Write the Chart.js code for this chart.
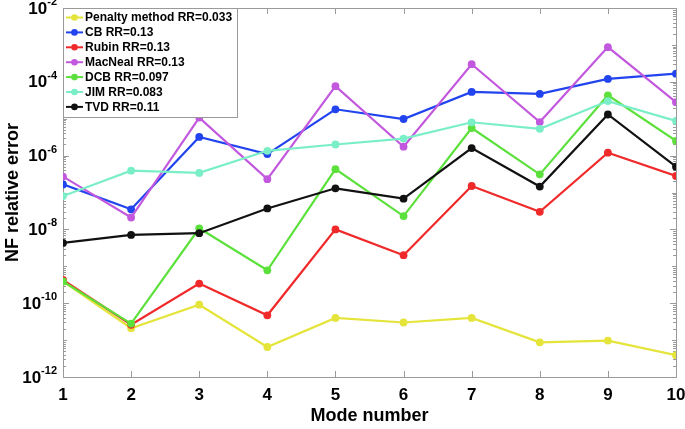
<!DOCTYPE html>
<html>
<head>
<meta charset="utf-8">
<script src="https://cdn.jsdelivr.net/npm/chart.js@4/dist/chart.umd.min.js"></script>
<style>
  html, body { margin: 0; padding: 0; background: #fff; }
  #wrap { width: 685px; height: 429px; }
</style>
</head>
<body>
<div id="wrap"><canvas id="nfChart"></canvas></div>
<script>
// mode numbers
const modes = [1, 2, 3, 4, 5, 6, 7, 8, 9, 10];

// NF relative error per method
const penalty = [3.9e-10, 2.1e-11, 9.1e-11, 6.5e-12, 4.0e-11, 3.0e-11, 4.0e-11, 8.7e-12, 9.7e-12, 3.9e-12];
const cb      = [1.66e-7, 3.5e-8, 3.2e-6, 1.1e-6, 1.8e-5, 9.8e-6, 5.3e-5, 4.7e-5, 1.2e-4, 1.66e-4];
const rubin   = [4.3e-10, 2.6e-11, 3.4e-10, 4.7e-11, 1.0e-8, 2.0e-9, 1.5e-7, 3.0e-8, 1.2e-6, 2.8e-7];
const macneal = [2.7e-7, 2.1e-8, 1.07e-5, 2.3e-7, 7.6e-5, 1.74e-6, 3.0e-4, 8.1e-6, 8.7e-4, 2.8e-5];
const dcb     = [3.9e-10, 2.8e-11, 1.07e-8, 7.8e-10, 4.3e-7, 2.3e-8, 5.6e-6, 3.1e-7, 4.3e-5, 2.5e-6];
const jim     = [8.0e-8, 3.9e-7, 3.4e-7, 1.35e-6, 2.0e-6, 2.9e-6, 8.0e-6, 5.3e-6, 3.0e-5, 8.7e-6];
const tvd     = [4.3e-9, 7.1e-9, 7.9e-9, 3.7e-8, 1.3e-7, 6.8e-8, 1.6e-6, 1.45e-7, 1.3e-5, 5.0e-7];

const seriesLabels = [
    'Penalty method RR=0.033', 'CB RR=0.13', 'Rubin RR=0.13', 'MacNeal RR=0.13',
    'DCB RR=0.097', 'JIM RR=0.083', 'TVD RR=0.11'
];
const seriesValues = [penalty, cb, rubin, macneal, dcb, jim, tvd];
const seriesColors = ['#e4e43a', '#2244ee', '#f02a2a', '#c258de', '#5ce03c', '#7aeec6', '#111111'];

// y tick exponents that get a label
const yTickExps = [-12, -10, -8, -6, -4, -2];

const FONT = '"Liberation Sans", Arial, sans-serif';
const AXIS_GRAY = '#9a9a9a';

// Build datasets (later series drawn on top, like the original)
const datasets = seriesValues.map((vals, i) => ({
    label: seriesLabels[i],
    data: vals.map((v, k) => ({ x: modes[k], y: v })),
    borderColor: seriesColors[i],
    backgroundColor: seriesColors[i],
    pointBackgroundColor: seriesColors[i],
    pointBorderColor: seriesColors[i],
    borderWidth: 2.2,
    pointRadius: 3.9,
    pointBorderWidth: 0,
    tension: 0,
    order: seriesValues.length - i,
}));

// box, inward ticks, y labels with superscripts, legend
const decorPlugin = {
    id: 'decor',
    beforeDatasetsDraw(chart) {
        const { ctx, chartArea: a, scales } = chart;
        const xs = scales.x, ys = scales.y;
        ctx.save();
        ctx.strokeStyle = AXIS_GRAY;
        ctx.lineWidth = 1;
        ctx.beginPath();
        // x major ticks top & bottom
        modes.forEach(m => {
            const px = Math.round(xs.getPixelForValue(m)) + 0.5;
            ctx.moveTo(px, a.bottom); ctx.lineTo(px, a.bottom - 6);
            ctx.moveTo(px, a.top); ctx.lineTo(px, a.top + 6);
        });
        // y ticks left & right
        for (let e = -12; e <= -2; e++) {
            const major = yTickExps.includes(e);
            const py = Math.round(ys.getPixelForValue(Math.pow(10, e))) + 0.5;
            const len = major ? 6 : 4;
            ctx.moveTo(a.left, py); ctx.lineTo(a.left + len, py);
            ctx.moveTo(a.right, py); ctx.lineTo(a.right - len, py);
            if (e < -2) {
                for (let k = 2; k <= 9; k++) {
                    const pm = Math.round(ys.getPixelForValue(k * Math.pow(10, e))) + 0.5;
                    ctx.moveTo(a.left, pm); ctx.lineTo(a.left + 3, pm);
                    ctx.moveTo(a.right, pm); ctx.lineTo(a.right - 3, pm);
                }
            }
        }
        ctx.stroke();
        // box
        ctx.strokeRect(Math.round(a.left) + 0.5, Math.round(a.top) + 0.5,
            Math.round(a.right - a.left), Math.round(a.bottom - a.top));

        // y tick labels 10^e
        ctx.fillStyle = '#000';
        ctx.textBaseline = 'middle';
        yTickExps.forEach(e => {
            const py = ys.getPixelForValue(Math.pow(10, e));
            const sup = String(e);
            ctx.font = 'bold 11px ' + FONT;
            const supW = ctx.measureText(sup).width;
            const right = a.left - 6;
            ctx.textAlign = 'left';
            ctx.fillText(sup, right - supW, py - 6);
            ctx.font = 'bold 17px ' + FONT;
            ctx.textAlign = 'right';
            ctx.fillText('10', right - supW, py + 1);
        });
        ctx.restore();
    },
    afterDatasetsDraw(chart) {
        const { ctx, chartArea: a } = chart;
        ctx.save();
        const lx = a.left, ly = a.top;
        const w = 174, h = 109;
        ctx.fillStyle = '#fff';
        ctx.fillRect(lx, ly, w, h);
        ctx.strokeStyle = AXIS_GRAY;
        ctx.lineWidth = 1;
        ctx.strokeRect(Math.round(lx) + 0.5, Math.round(ly) + 0.5, w, h);
        ctx.font = 'bold 12px ' + FONT;
        ctx.textBaseline = 'middle';
        ctx.textAlign = 'left';
        seriesLabels.forEach((lab, i) => {
            const y = ly + 9.5 + i * 14.9;
            ctx.strokeStyle = seriesColors[i];
            ctx.lineWidth = 2;
            ctx.beginPath();
            ctx.moveTo(lx + 3, y); ctx.lineTo(lx + 20, y);
            ctx.stroke();
            ctx.fillStyle = seriesColors[i];
            ctx.beginPath();
            ctx.arc(lx + 11.5, y, 3.3, 0, Math.PI * 2);
            ctx.fill();
            ctx.fillStyle = '#000';
            ctx.fillText(lab, lx + 22, y + 0.5);
        });
        ctx.restore();
    }
};

const ctx = document.getElementById('nfChart').getContext('2d');
const nfChart = new Chart(ctx, {
    type: 'line',
    data: { datasets: datasets },
    plugins: [decorPlugin],
    options: {
        responsive: true,
        maintainAspectRatio: false,
        animation: false,
        layout: { padding: { top: 8, right: 9, left: 0, bottom: 0 } },
        plugins: {
            legend: { display: false },
            tooltip: { enabled: false }
        },
        scales: {
            x: {
                type: 'linear',
                min: 1,
                max: 10,
                grid: { display: false },
                border: { display: false },
                ticks: {
                    stepSize: 1,
                    color: '#000',
                    font: { family: FONT, size: 17, weight: 'bold' },
                    padding: 0,
                    maxRotation: 0
                },
                title: {
                    display: true,
                    text: 'Mode number',
                    color: '#000',
                    font: { family: FONT, size: 18, weight: 'bold' },
                    padding: { top: 0, bottom: 2 }
                },
                afterFit: s => { s.height = 52; s.paddingRight = 0; s.paddingLeft = 0; }
            },
            y: {
                type: 'logarithmic',
                min: 1e-12,
                max: 1e-2,
                grid: { display: false },
                border: { display: false },
                ticks: { display: false },
                title: {
                    display: true,
                    text: 'NF relative error',
                    color: '#000',
                    font: { family: FONT, size: 18, weight: 'bold' },
                    padding: { top: 2, bottom: 0 }
                },
                afterFit: s => { s.width = 63; }
            }
        }
    }
});
</script>
</body>
</html>
